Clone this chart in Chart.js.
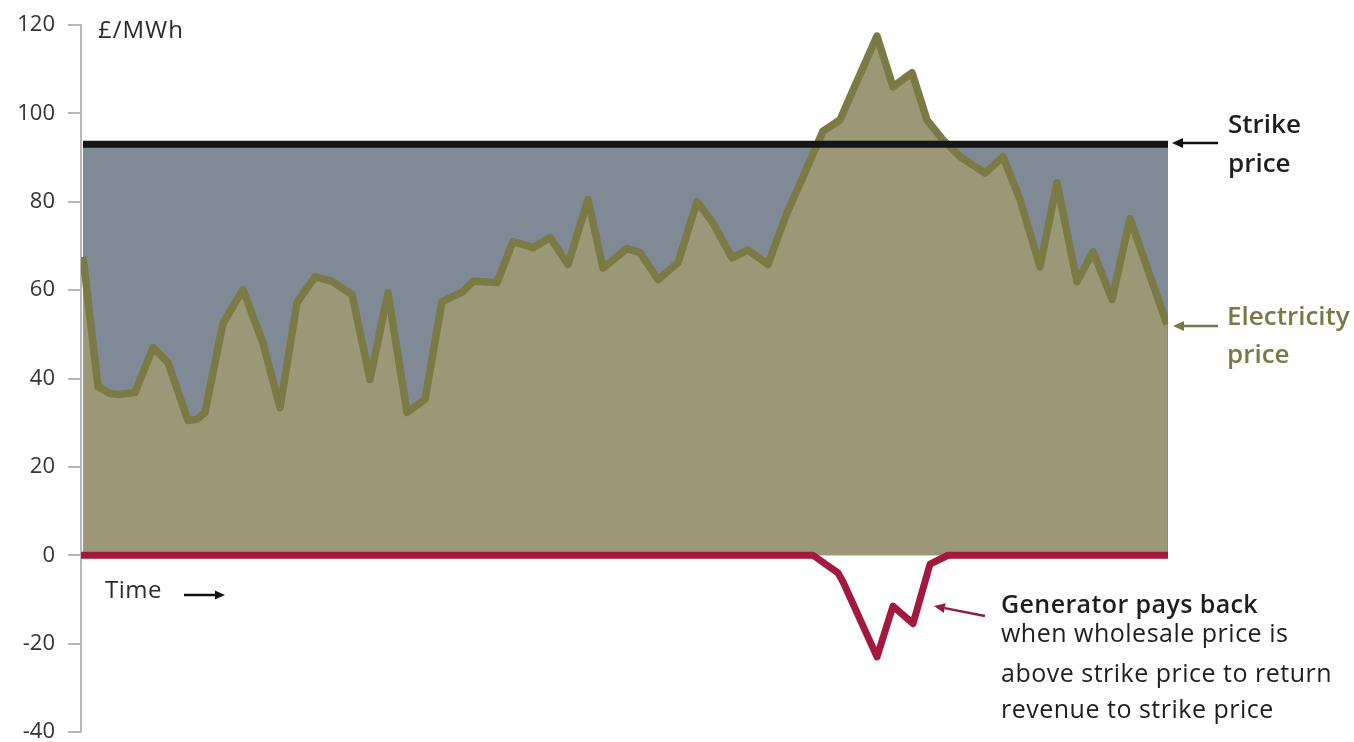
<!DOCTYPE html>
<html><head><meta charset="utf-8">
<script src="https://cdn.jsdelivr.net/npm/chart.js@4/dist/chart.umd.min.js"></script>
<style>html,body{margin:0;padding:0;background:#fff}#wrap{position:relative;width:1354px;height:742px}</style>
</head><body><div id="wrap"><canvas id="c" width="1354" height="742"></canvas></div>
<script>
// Time positions (arbitrary time units) and electricity price (£/MWh)
const priceTime = [2,17,29,37,54,72,87,107,116,124,142,162,182,199,216,234,251,271,289,307,326,344,361,381,392,416,432,452,469,487,507,522,546,559,577,597,616,632,651,667,687,706,722,742,759,769,796,812,831,846,862,879,904,922,939,959,976,996,1012,1031,1049,1086];
const electricityPrice = [67.5,38.2,36.6,36.4,36.8,47,43.6,30.5,30.8,32.3,52.5,60.1,48,33.4,57.2,63,62,59,39.8,59.4,32.3,35.3,57.4,59.5,62,61.7,71,69.6,71.9,65.8,80.5,65,69.4,68.5,62.4,66.2,80,75.2,67.3,69.1,65.8,77.5,85.6,96,98.5,103.7,117.5,106,109.2,98.5,94,90.2,86.5,90.2,80.5,65.3,84.3,61.9,68.7,57.9,76.2,52.2];
// Generator payback (negative £/MWh)
const paybackTime = [0,732,757,762,796,812,832,849,867,1087];
const payback = [0,0,-4,-6,-23,-11.5,-15.5,-2,0,0];
// Strike price
const strikeTime = [2,1087];
const strikePrice = [93,93];
const yMin = -40, yMax = 120, yStep = 20;

const pts = (xs, ys) => xs.map((x, i) => ({x, y: ys[i]}));

const FONT = "'Open Sans', 'Noto Sans', sans-serif";

function arrow(ctx, x1, y1, x2, y2, color, w, head) {
  ctx.save();
  ctx.strokeStyle = color; ctx.fillStyle = color; ctx.lineWidth = w;
  const a = Math.atan2(y2 - y1, x2 - x1);
  const hx = x2 - head * Math.cos(a), hy = y2 - head * Math.sin(a);
  ctx.beginPath(); ctx.moveTo(x1, y1); ctx.lineTo(hx, hy); ctx.stroke();
  ctx.beginPath();
  ctx.moveTo(x2, y2);
  ctx.lineTo(hx + head * 0.45 * Math.sin(a), hy - head * 0.45 * Math.cos(a));
  ctx.lineTo(hx - head * 0.45 * Math.sin(a), hy + head * 0.45 * Math.cos(a));
  ctx.closePath(); ctx.fill();
  ctx.restore();
}

function text(ctx, s, x, y, font, color, spacing) {
  ctx.font = font;
  ctx.fillStyle = color;
  ctx.letterSpacing = (spacing || 0) + 'px';
  ctx.fillText(s, x, y);
  ctx.letterSpacing = '0px';
}

const annotations = {
  id: 'annotations',
  afterDraw(chart) {
    const ctx = chart.ctx;
    ctx.save();
    ctx.textBaseline = 'alphabetic';
    ctx.textAlign = 'left';
    text(ctx, '£/MWh', 98, 38, `24px ${FONT}`, '#2b2b2b', 1);
    text(ctx, 'Time', 105, 598, `24px ${FONT}`, '#2b2b2b', 0.5);
    arrow(ctx, 184, 595, 225, 595, '#111', 2.5, 10);

    text(ctx, 'Strike', 1228, 133, `600 26px ${FONT}`, '#1e1e1e', 0);
    text(ctx, 'price', 1228, 172, `600 26px ${FONT}`, '#1e1e1e', 0);
    arrow(ctx, 1218, 143, 1172, 143, '#111', 2.5, 11);

    text(ctx, 'Electricity', 1227, 325, `600 26px ${FONT}`, '#7a7945', 0);
    text(ctx, 'price', 1227, 363, `600 26px ${FONT}`, '#7a7945', 0);
    arrow(ctx, 1218, 326, 1173, 326, '#7a7945', 2.5, 11);

    text(ctx, 'Generator pays back', 1001, 613, `600 25px ${FONT}`, '#1e1e1e', 0.4);
    text(ctx, 'when wholesale price is', 1001, 642, `25px ${FONT}`, '#1e1e1e', 0.5);
    text(ctx, 'above strike price to return', 1001, 682, `25px ${FONT}`, '#1e1e1e', 0.5);
    text(ctx, 'revenue to strike price', 1001, 718, `25px ${FONT}`, '#1e1e1e', 0.5);
    arrow(ctx, 985, 616, 934, 606, '#8e1f3d', 2.5, 11);
    ctx.restore();
  }
};

new Chart(document.getElementById('c'), {
  type: 'line',
  data: {
    datasets: [
      { label: 'Strike price area', data: pts(strikeTime, strikePrice), fill: 'origin',
        backgroundColor: '#7f8a96', borderWidth: 0, pointRadius: 0, order: 4 },
      { label: 'Electricity price', data: pts(priceTime, electricityPrice), fill: 'origin',
        backgroundColor: '#9b9877', borderColor: '#7b7a44', borderWidth: 7.5,
        borderJoinStyle: 'round', pointRadius: 0, tension: 0, order: 3 },
      { label: 'Generator pays back', data: pts(paybackTime, payback), fill: false,
        borderColor: '#a3183f', borderWidth: 7, borderJoinStyle: 'round', borderCapStyle: 'round',
        pointRadius: 0, tension: 0, order: 2 },
      { label: 'Strike price', data: pts(strikeTime, strikePrice), fill: false,
        borderColor: '#151515', borderWidth: 7, pointRadius: 0, order: 1 }
    ]
  },
  options: {
    responsive: false, animation: false, events: [],
    layout: { padding: { top: 25, bottom: 10, left: 0, right: 186 } },
    plugins: { legend: { display: false }, tooltip: { enabled: false } },
    scales: {
      x: { type: 'linear', min: 0, max: 1087, display: false },
      y: {
        min: yMin, max: yMax,
        ticks: { stepSize: yStep, color: '#333', font: { family: FONT, size: 22 }, padding: 13 },
        grid: { drawOnChartArea: false, tickLength: 13, color: '#b8b8b8', lineWidth: 2 },
        border: { color: '#b8b8b8', width: 2 },
        afterFit(s) { s.width = 81; s.paddingTop = 0; s.paddingBottom = 0; }
      }
    }
  },
  plugins: [annotations]
});
</script></body></html>
